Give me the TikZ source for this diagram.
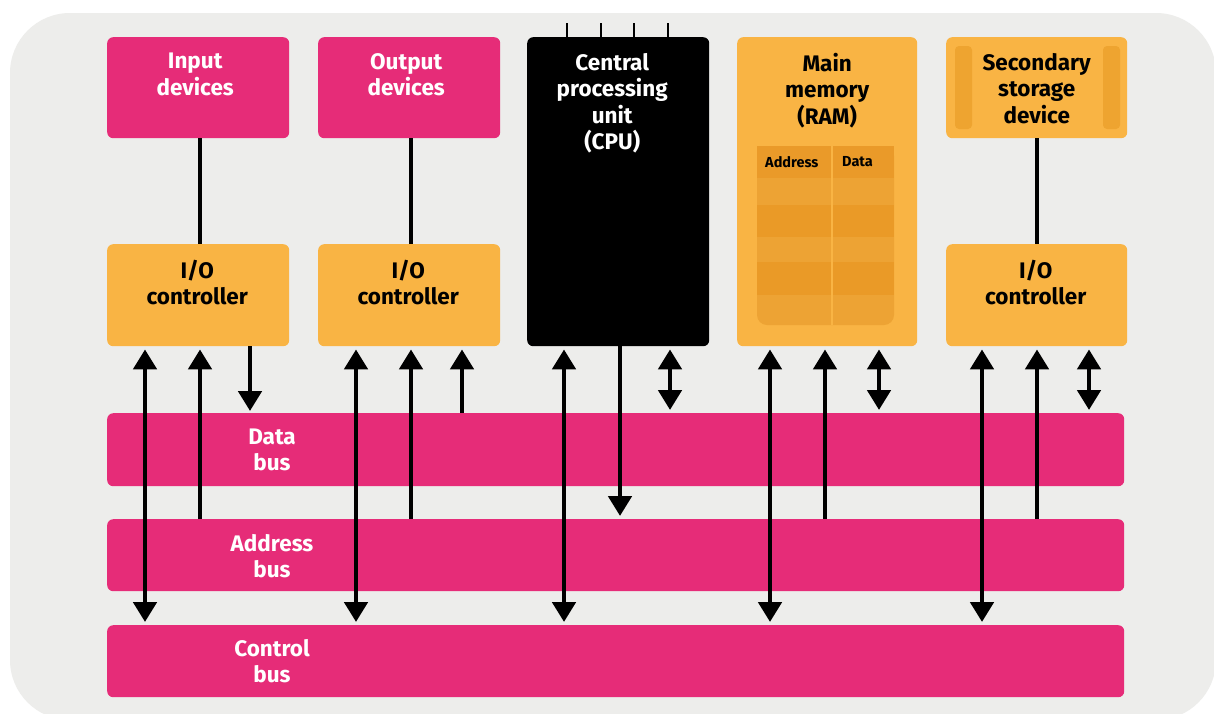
\documentclass[tikz,border=0pt]{standalone}
\usepackage{fontspec}
\setmainfont{Fira Sans}
\usepackage{tikz}
\usetikzlibrary{arrows.meta}

\definecolor{buspink}{HTML}{E62C78}
\definecolor{ctrlorange}{HTML}{F9B444}
\definecolor{canvasgray}{HTML}{EDEDEB}
\definecolor{tablehead}{HTML}{EA9A29}
\definecolor{rowlight}{HTML}{EDA334}
\definecolor{rowdark}{HTML}{EA9A27}
\definecolor{stripe}{HTML}{EEA430}

\begin{document}
\begin{tikzpicture}[x=1pt,y=-1pt,>={Triangle[width=23pt,length=20pt]}]
    \tikzstyle{unit}=[rectangle,rounded corners=6pt,inner sep=0pt,anchor=north west,
    minimum width=182pt,minimum height=101pt]
    \tikzstyle{device}=[unit,fill=buspink]
    \tikzstyle{ctrl}=[unit,fill=ctrlorange]
    \tikzstyle{boxtext}=[anchor=north,yshift=-12.5pt,align=center,
    font=\bfseries\fontsize{22.5}{26.5}\selectfont]
    \tikzstyle{bus}=[rectangle,rounded corners=6pt,inner sep=0pt,anchor=north west,
    minimum width=1017pt,minimum height=72pt,fill=buspink]
    \tikzstyle{bustext}=[text=white,align=center,font=\bfseries\fontsize{22.5}{26.5}\selectfont]
    \tikzstyle{cellhead}=[anchor=west,inner sep=0pt,font=\bfseries\fontsize{14.5}{16}\selectfont]
    \tikzstyle{wire}=[line width=4.8pt]
    \tikzstyle{twoway}=[wire,<->,shorten <=3pt,shorten >=3pt]
    \tikzstyle{busup}=[wire,->,shorten >=3pt]
    \tikzstyle{busdown}=[wire,->,shorten >=2pt]

    \useasboundingbox (0,0) rectangle (1214,713);
    \fill[white] (0,0) rectangle (1214,713);
    \fill[canvasgray,rounded corners=60pt] (10,13) rectangle (1216,720);

    % top row
    \node[device,label={[boxtext,text=white,xshift=-3pt]north:{Input\\devices}}] (inp) at (107,37) {};
    \node[device,label={[boxtext,text=white,xshift=-3pt]north:{Output\\devices}}] (outd) at (318,37) {};
    \node[unit,fill=black,minimum height=309pt,
      label={[boxtext,text=white,xshift=-6pt]north:{Central\\processing\\unit\\(CPU)}}] (cpu) at (527,37) {};
    \node[ctrl,minimum width=180pt,minimum height=309pt,
      label={[boxtext]north:{Main\\memory\\(RAM)}}] (ram) at (737,37) {};

    % cpu pins
    \draw[line width=2.5pt] ([xshift=40pt]cpu.north west) -- ++(0,-14);
    \draw[line width=2.5pt] ([xshift=74pt]cpu.north west) -- ++(0,-14);
    \draw[line width=2.5pt] ([xshift=107pt]cpu.north west) -- ++(0,-14);
    \draw[line width=2.5pt] ([xshift=141pt]cpu.north west) -- ++(0,-14);

    % disk with its two sides
    \node[ctrl,minimum width=181pt] (sto) at (946,37) {};
    \fill[stripe,rounded corners=4pt] (955,46) rectangle (972,129);
    \fill[stripe,rounded corners=4pt] (1103,46) rectangle (1120,129);
    \node[boxtext] (stolab) at (sto.north) {Secondary\\storage\\device};

    % memory table
    \fill[rowlight,rounded corners=10pt] (757,146) rectangle (894,325);
    \fill[tablehead] (757,146) rectangle (894,178);
    \fill[rowdark] (757,205) rectangle (894,237);
    \fill[rowdark] (757,262) rectangle (894,295);
    \fill[ctrlorange] (831,146) rectangle (833,325);
    \node[cellhead] (adr) at (765,162) {Address};
    \node[cellhead] (dat) at (842,162) {Data};

    % controllers
    \node[ctrl,minimum height=102pt,label={[boxtext,xshift=-1pt]north:{I/O\\controller}}] (ioa) at (107,244) {};
    \node[ctrl,minimum height=102pt,label={[boxtext,xshift=-1pt]north:{I/O\\controller}}] (iob) at (318,244) {};
    \node[ctrl,minimum width=181pt,minimum height=102pt,
      label={[boxtext,xshift=-1pt]north:{I/O\\controller}}] (ioc) at (946,244) {};

    % buses
    \node[bus,minimum height=73pt] (dbus) at (107,413) {};
    \node[bus] (abus) at (107,519) {};
    \node[bus] (cbus) at (107,625) {};
    \node[bustext] (dlab) at (272,450) {Data\\bus};
    \node[bustext] (alab) at (272,556) {Address\\bus};
    \node[bustext] (clab) at (272,661) {Control\\bus};

    \draw[wire] ([xshift=93pt]inp.south west) -- ([xshift=93pt]ioa.north west);
    \draw[wire] ([xshift=93pt]outd.south west) -- ([xshift=93pt]iob.north west);
    \draw[wire] ([xshift=91pt]sto.south west) -- ([xshift=91pt]ioc.north west);

    \draw[twoway] ([xshift=38pt]ioa.south west) -- ([xshift=38pt]cbus.north west);
    \draw[busup] ([xshift=93pt]abus.north west) -- ([xshift=93pt]ioa.south west);
    \draw[busdown] ([xshift=143pt]ioa.south west) -- ([xshift=143pt]dbus.north west);

    \draw[twoway] ([xshift=38pt]iob.south west) -- ([xshift=249pt]cbus.north west);
    \draw[busup] ([xshift=304pt]abus.north west) -- ([xshift=93pt]iob.south west);
    \draw[busup] ([xshift=355pt]dbus.north west) -- ([xshift=144pt]iob.south west);

    \draw[twoway] ([xshift=37pt]cpu.south west) -- ([xshift=457pt]cbus.north west);
    \draw[busdown,shorten >=3pt] ([xshift=93pt]cpu.south west) -- ([xshift=513pt]abus.north west);
    \draw[twoway] ([xshift=143pt]cpu.south west) -- ([xshift=563pt]dbus.north west);

    \draw[twoway] ([xshift=33pt]ram.south west) -- ([xshift=663pt]cbus.north west);
    \draw[busup] ([xshift=718pt]abus.north west) -- ([xshift=88pt]ram.south west);
    \draw[twoway] ([xshift=142pt]ram.south west) -- ([xshift=772pt]dbus.north west);

    \draw[twoway] ([xshift=36pt]ioc.south west) -- ([xshift=875pt]cbus.north west);
    \draw[busup] ([xshift=930pt]abus.north west) -- ([xshift=91pt]ioc.south west);
    \draw[twoway] ([xshift=143pt]ioc.south west) -- ([xshift=982pt]dbus.north west);

\end{tikzpicture}
\end{document}
